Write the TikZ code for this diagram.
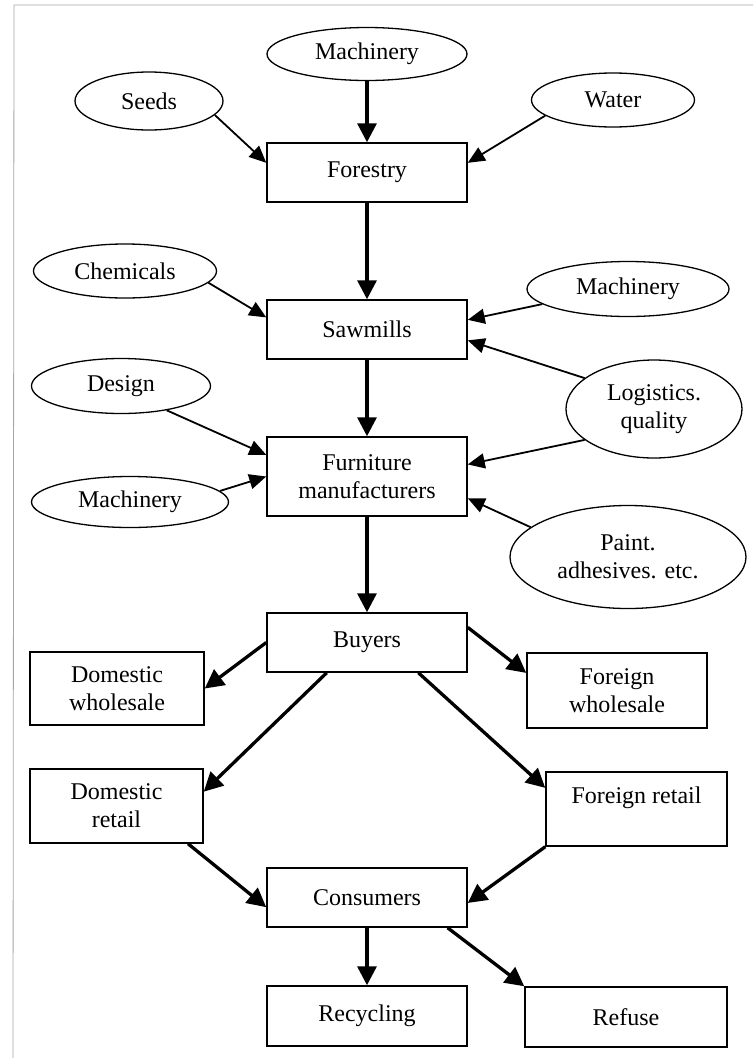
\documentclass[tikz,border=0pt]{standalone}
\usepackage{fontspec}
\setmainfont{Liberation Serif}
\usetikzlibrary{arrows.meta,shapes.geometric,calc}
\begin{document}
\begin{tikzpicture}[x=1pt,y=-1pt,
  every node/.style={font=\fontsize{24}{28}\selectfont, align=center, inner sep=0pt},
  box/.style={draw, line width=1.5pt, rectangle},
  oval/.style={draw, line width=1.3pt, ellipse},
  thinarrow/.style={line width=1.8pt, -{Triangle[length=17pt,width=15pt]}},
  thickarrow/.style={line width=3.3pt, -{Triangle[length=19pt,width=19pt]}},
  frameline/.style={draw=gray!70, line width=0.8pt}
]
\fill[white] (0,0) rectangle (753,1058);
\useasboundingbox (0,0) rectangle (753,1058);
\coordinate (fa) at (14,5);
\coordinate (fb) at (753,5);
\coordinate (fc) at (13,1058);
\draw[frameline] (fb) -- (fa) -- (fc);

% ellipses
\node[oval, minimum width=200pt, minimum height=53pt] (Mtop) at (367,54) {Machinery};
\node[oval, minimum width=148pt, minimum height=58pt] (Seeds) at (149,101) {Seeds};
\node[oval, minimum width=163pt, minimum height=54pt] (Water) at (613,100) {Water};
\node[oval, minimum width=183pt, minimum height=54pt] (Chemicals) at (125,271) {Chemicals};
\node[oval, minimum width=202pt, minimum height=55pt] (MachR) at (628,289) {Machinery};
\node[oval, minimum width=179pt, minimum height=55pt] (Design) at (121,386) {Design};
\node[oval, minimum width=176pt, minimum height=98pt] (Logistics) at (654,409) {Logistics.\\quality};
\node[oval, minimum width=197pt, minimum height=51pt] (MachL) at (130,502) {Machinery};
\node[oval, minimum width=236pt, minimum height=103pt] (Paint) at (628,557) {Paint.\\adhesives. etc.};

% boxes
\node[box, minimum width=200pt, minimum height=59pt] (Forestry) at (367,172.5) {Forestry};
\node[box, minimum width=200pt, minimum height=59pt] (Sawmills) at (367,329.5) {Sawmills};
\node[box, minimum width=200pt, minimum height=79pt] (Furniture) at (367,476.5) {Furniture\\manufacturers};
\node[box, minimum width=200pt, minimum height=59pt] (Buyers) at (367,642.5) {Buyers};
\node[box, minimum width=174pt, minimum height=73pt] (DW) at (117,688.5) {Domestic\\wholesale};
\node[box, minimum width=180pt, minimum height=75pt] (FW) at (617,690.5) {Foreign\\wholesale};
\node[box, minimum width=173pt, minimum height=74pt] (DR) at (116.5,806) {Domestic\\retail};
\node[box, minimum width=181pt, minimum height=74pt] (FR) at (636.5,809) {Foreign retail\\\mbox{}};
\node[box, minimum width=200pt, minimum height=59pt] (Consumers) at (367,897.5) {Consumers};
\node[box, minimum width=200pt, minimum height=60pt] (Recycling) at (367,1016) {Recycling};
\node[box, minimum width=202pt, minimum height=60pt] (Refuse) at (626,1017) {Refuse};

% connectors
\draw[thickarrow] (Mtop) -- (Forestry);
\draw[thinarrow] (Seeds.-12) -- ($(Forestry.north west)!0.34!(Forestry.south west)$);
\draw[thinarrow] (Water.193) -- ($(Forestry.north east)!0.34!(Forestry.south east)$);
\draw[thickarrow] (Forestry) -- (Sawmills);
\draw[thinarrow] (Chemicals.-8) -- ($(Sawmills.north west)!0.3!(Sawmills.south west)$);
\draw[thinarrow] (MachR.190) -- ($(Sawmills.north east)!0.34!(Sawmills.south east)$);
\draw[thinarrow] (Logistics.156) -- ($(Sawmills.north east)!0.68!(Sawmills.south east)$);
\draw[thickarrow] (Sawmills) -- (Furniture);
\draw[thinarrow] (Design.-28) -- ($(Furniture.north west)!0.23!(Furniture.south west)$);
\draw[thinarrow] (MachL.7) -- ($(Furniture.north west)!0.5!(Furniture.south west)$);
\draw[thinarrow] (Logistics.204) -- ($(Furniture.north east)!0.35!(Furniture.south east)$);
\draw[thinarrow] (Paint.163) -- ($(Furniture.north east)!0.77!(Furniture.south east)$);
\draw[thickarrow] (Furniture) -- (Buyers);
\draw[thickarrow] (Buyers.west) -- (DW.east);
\draw[thickarrow] ($(Buyers.north east)!0.25!(Buyers.south east)$) -- ($(FW.north west)!0.27!(FW.south west)$);
\draw[thickarrow] ($(Buyers.south west)!0.3!(Buyers.south east)$) -- ($(DR.north east)!0.31!(DR.south east)$);
\draw[thickarrow] ($(Buyers.south west)!0.755!(Buyers.south east)$) -- ($(FR.north west)!0.22!(FR.south west)$);
\draw[thickarrow] ($(DR.south west)!0.91!(DR.south east)$) -- ($(Consumers.north west)!0.66!(Consumers.south west)$);
\draw[thickarrow] (FR.south west) -- ($(Consumers.north east)!0.59!(Consumers.south east)$);
\draw[thickarrow] (Consumers) -- (Recycling);
\draw[thickarrow] ($(Consumers.south west)!0.9!(Consumers.south east)$) -- (Refuse.north west);
\end{tikzpicture}
\end{document}
